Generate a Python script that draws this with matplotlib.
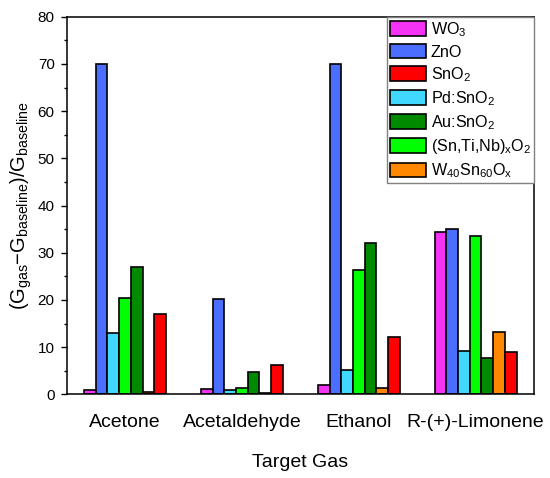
import numpy as np
import matplotlib
matplotlib.use("Agg")
import matplotlib.pyplot as plt

plt.rcParams['font.family'] = ['Liberation Sans', 'DejaVu Sans']
plt.rcParams['mathtext.fontset'] = 'custom'
plt.rcParams['mathtext.rm'] = 'Liberation Sans'
plt.rcParams['mathtext.it'] = 'Liberation Sans'
plt.rcParams['mathtext.default'] = 'regular'

# datos
gases = ['Acetone', 'Acetaldehyde', 'Ethanol', 'R-(+)-Limonene']
wo3 = [0.9, 1.2, 2.0, 34.4]
zno = [70.0, 20.2, 70.0, 35.0]
pd_sno2 = [13.0, 0.85, 5.1, 9.2]
stn = [20.5, 1.4, 26.3, 33.5]
au_sno2 = [27.0, 4.7, 32.0, 7.8]
w40 = [0.4, 0.35, 1.3, 13.2]
sno2 = [17.0, 6.3, 12.1, 9.0]

# orden de las barras dentro de cada grupo
series = [
    ('WO$_3$', wo3, '#F533F5'),
    ('ZnO', zno, '#4B6EFF'),
    ('Pd:SnO$_2$', pd_sno2, '#40D8FF'),
    ('(Sn,Ti,Nb)$_x$O$_2$', stn, '#00FF00'),
    ('Au:SnO$_2$', au_sno2, '#008A00'),
    ('W$_{40}$Sn$_{60}$O$_x$', w40, '#FF8800'),
    ('SnO$_2$', sno2, '#FF0000'),
]
legend_order = [0, 1, 6, 2, 4, 3, 5]

fig = plt.figure(figsize=(5.5, 4.78), dpi=100)
ax = fig.add_axes([0.121, 0.175, 0.850, 0.790])

x = np.arange(1, len(gases) + 1)
w = 0.1
handles = []
for i, (name, vals, col) in enumerate(series):
    b = ax.bar(x + (i - 3) * w, vals, w, color=col, edgecolor='black',
               linewidth=1.2, label=name)
    handles.append(b)

ax.set_xlim(0.5, 4.5)
ax.set_ylim(0, 80)
ax.set_xticks(x)
ax.set_xticklabels(gases, fontsize=14)
ax.tick_params(axis='x', length=0, pad=14)
ax.set_yticks(np.arange(0, 81, 10))
ax.set_yticks(np.arange(5, 80, 10), minor=True)
ax.tick_params(axis='y', which='major', direction='out', length=4.5, width=1, labelsize=11, pad=4)
ax.tick_params(axis='y', which='minor', direction='out', length=2.5, width=1)
for s in ax.spines.values():
    s.set_linewidth(1.1)

ax.set_xlabel('Target Gas', fontsize=14, labelpad=17)
ax.set_ylabel('(G$_{gas}$\u2212G$_{baseline}$)/G$_{baseline}$', fontsize=14.5, labelpad=3)

leg = ax.legend([handles[i] for i in legend_order],
                [series[i][0] for i in legend_order],
                loc='upper right', fontsize=11.6, fancybox=False, framealpha=1,
                edgecolor='gray', borderaxespad=0, borderpad=0.2,
                handlelength=2.2, handleheight=1.0, handletextpad=0.3,
                labelspacing=0.33)
leg.get_frame().set_linewidth(1)

plt.savefig('out.png', dpi=100)
